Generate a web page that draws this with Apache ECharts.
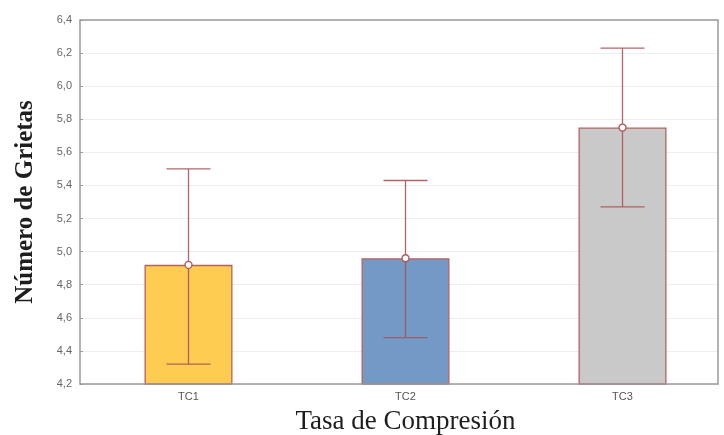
<!DOCTYPE html>
<html>
<head>
<meta charset="utf-8">
<script src="https://cdn.jsdelivr.net/npm/echarts@6/dist/echarts.min.js"></script>
<style>html,body{margin:0;padding:0;background:#fff;}#c{width:724px;height:435px;}</style>
</head>
<body>
<div id="c"></div>
<script>
var categories = ['TC1', 'TC2', 'TC3'];
var means = [4.92, 4.96, 5.75];
var lower = [4.32, 4.48, 5.27];
var upper = [5.50, 5.43, 6.23];
var barColors = ['#FDCC50', '#7399C7', '#C9C9C9'];

var chart = echarts.init(document.getElementById('c'), null, {renderer: 'canvas'});
var errData = categories.map(function (c, i) { return [i, lower[i], upper[i]]; });

chart.setOption({
  backgroundColor: '#ffffff',
  animation: false,
  grid: {left: 80, top: 20, width: 651, height: 364, containLabel: false, outerBoundsMode: 'none'},
  graphic: [{
    type: 'rect', z: 99,
    shape: {x: 719, y: 0, width: 10, height: 435},
    style: {fill: '#ffffff', stroke: 'none'}
  }, {
    type: 'rect', z: 100,
    shape: {x: 80, y: 20, width: 638, height: 364},
    style: {fill: 'none', stroke: '#9a9a9a', lineWidth: 1.5}
  }],
  xAxis: {
    type: 'category', data: categories,
    axisLine: {show: false},
    axisTick: {show: false},
    axisLabel: {color: '#555', fontSize: 11, fontFamily: 'Liberation Sans', margin: 7},
    name: 'Tasa de Compresión', nameLocation: 'middle', nameGap: 24,
    nameTextStyle: {fontFamily: 'Liberation Serif', fontSize: 27, color: '#1e1e1e'}
  },
  yAxis: {
    type: 'value', min: 4.2, max: 6.4, interval: 0.2,
    axisLine: {show: false},
    axisTick: {show: true, inside: true, length: 3, lineStyle: {color: '#999'}},
    axisLabel: {color: '#666', fontSize: 11, fontFamily: 'Liberation Sans', margin: 8,
      formatter: function (v) { return v.toFixed(1).replace('.', ','); }},
    splitLine: {show: true, lineStyle: {color: '#eeeeee', width: 1}},
    name: 'Número de Grietas', nameLocation: 'middle', nameGap: 42,
    nameTextStyle: {fontFamily: 'Liberation Serif', fontSize: 25, fontWeight: 'bold', color: '#1e1e1e'}
  },
  series: [
    {
      type: 'bar', barWidth: 88,
      data: means.map(function (m, i) {
        return {value: m, itemStyle: {color: barColors[i], borderColor: '#B8605C', borderWidth: 1.3}};
      }),
      z: 2
    },
    {
      type: 'custom', z: 5,
      data: errData,
      renderItem: function (params, api) {
        var x = api.value(0);
        var lo = api.coord([x, api.value(1)]);
        var hi = api.coord([x, api.value(2)]);
        var hw = 22;
        var st = {stroke: '#A9545A', lineWidth: 1.3, opacity: 0.9};
        return {
          type: 'group',
          children: [
            {type: 'line', shape: {x1: hi[0], y1: hi[1], x2: lo[0], y2: lo[1]}, style: st},
            {type: 'line', shape: {x1: hi[0] - hw, y1: hi[1], x2: hi[0] + hw, y2: hi[1]}, style: st},
            {type: 'line', shape: {x1: lo[0] - hw, y1: lo[1], x2: lo[0] + hw, y2: lo[1]}, style: st}
          ]
        };
      }
    },
    {
      type: 'scatter', z: 6,
      data: means,
      symbol: 'circle', symbolSize: 7,
      itemStyle: {color: '#ffffff', borderColor: '#B0565A', borderWidth: 1.3, opacity: 1}
    }
  ]
});
</script>
</body>
</html>
